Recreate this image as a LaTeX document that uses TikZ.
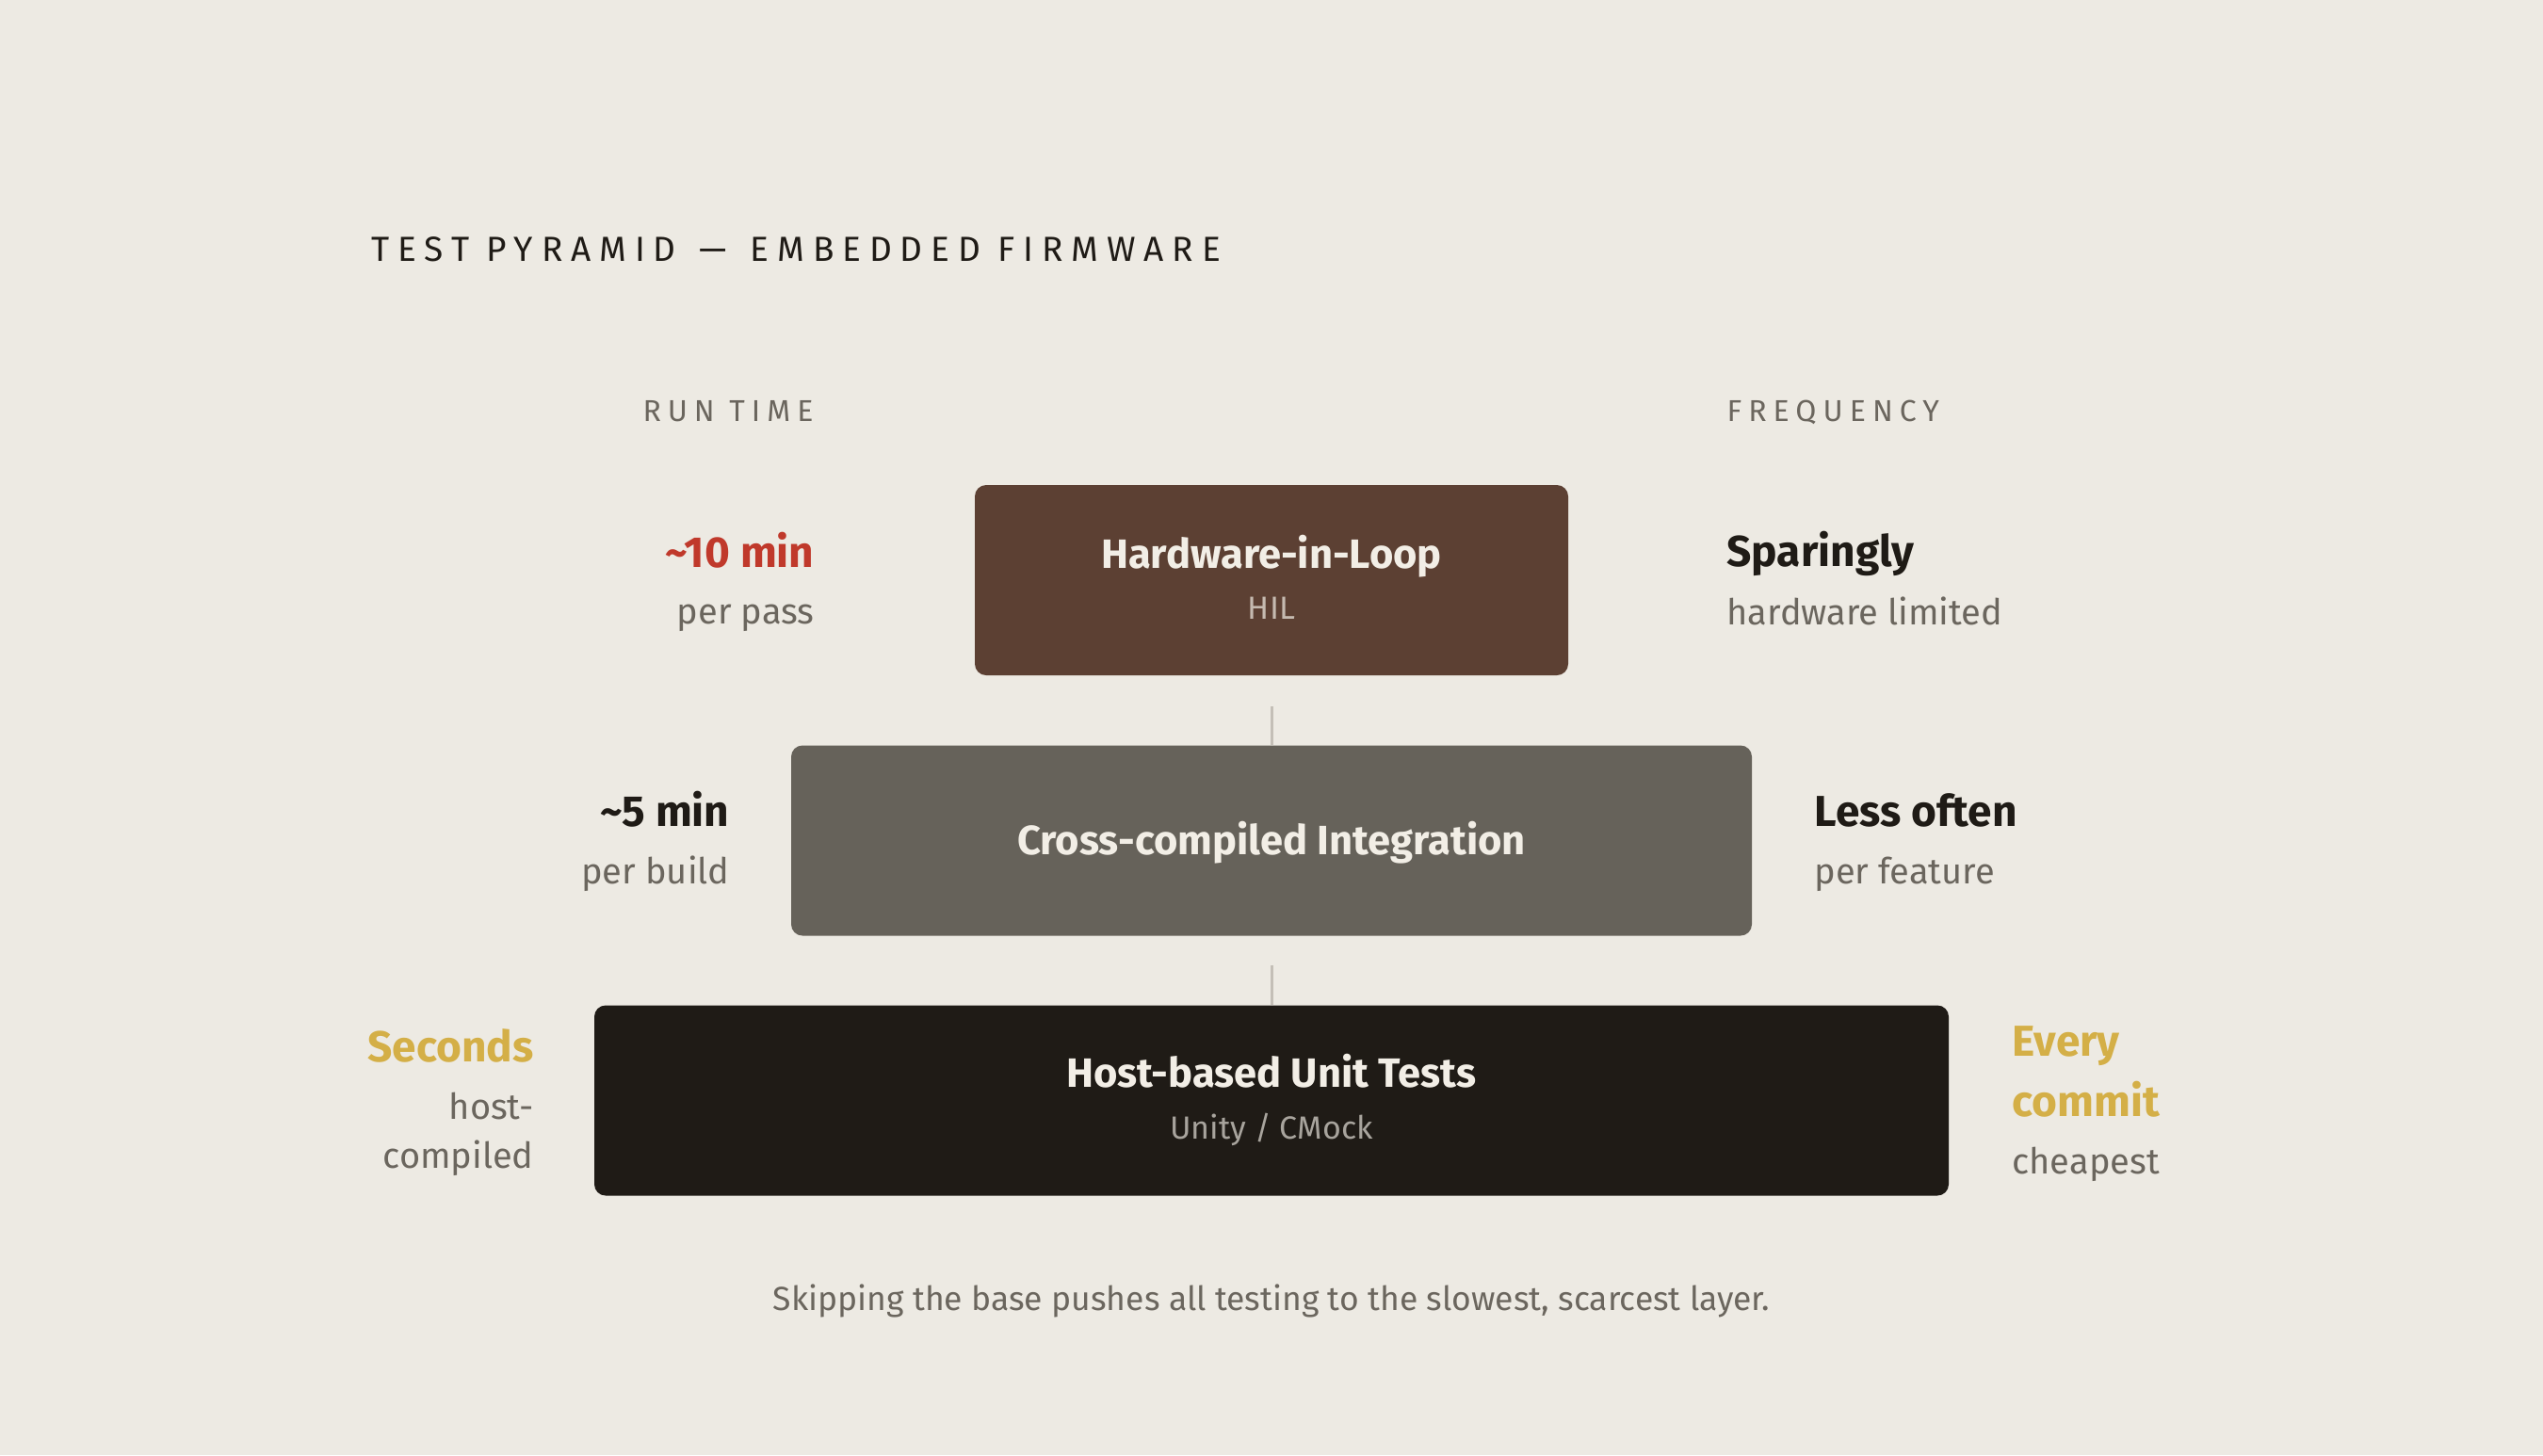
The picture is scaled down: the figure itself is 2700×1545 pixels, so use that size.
\documentclass[tikz,border=0pt]{standalone}
\usepackage{fontspec}
\setmainfont{Fira Sans}
\newfontfamily\capsfont[LetterSpace=22]{Fira Sans}
\newfontfamily\titlefont[LetterSpace=24]{Fira Sans}
\usepackage{tikz}
\usetikzlibrary{positioning}
\definecolor{paper}{HTML}{EDEAE3}
\definecolor{hilbrown}{HTML}{5C4033}
\definecolor{midgrey}{HTML}{66625A}
\definecolor{ink}{HTML}{1F1B16}
\definecolor{cream}{HTML}{F2EEE6}
\definecolor{muted}{HTML}{6B665E}
\definecolor{rust}{HTML}{C0392B}
\definecolor{gold}{HTML}{D4AF47}
\definecolor{rulegrey}{HTML}{C4BFB7}

\begin{document}
\begin{tikzpicture}[x=1pt, y=-1pt,
  tier/.style={rounded corners=12pt, minimum height=202pt, inner sep=0pt},
  tiername/.style={anchor=base, text=cream, font=\fontsize{43.5}{50}\selectfont\bfseries},
  tiersub/.style={anchor=base, font=\fontsize{34}{40}\selectfont},
  big/.style={font=\fontsize{46}{54}\selectfont\bfseries},
  small/.style={text=muted, font=\fontsize{38}{46}\selectfont},
  head/.style={text=muted, font=\capsfont\fontsize{32}{38}\selectfont},
  link/.style={draw=rulegrey, line width=3pt}
]
\fill[paper] (0,0) rectangle (2700,1545);
\useasboundingbox (0,0) rectangle (2700,1545);

% title
\node[anchor=base west, text=ink, font=\titlefont\fontsize{37}{44}\selectfont] (title) at (391,277) {TEST PYRAMID \,—\, EMBEDDED FIRMWARE};

% column heads
\node[head, anchor=base east] (runtime) at (867,447) {RUN TIME};
\node[head, anchor=base west] (freq) at (1830,447) {FREQUENCY};

% tiers
\node[tier, fill=hilbrown, minimum width=630pt] (hil) at (1350,616) {};
\node[tier, fill=midgrey, minimum width=1020pt] (mid) at (1350,892.5) {};
\node[tier, fill=ink, minimum width=1438pt] (base) at (1350,1168.5) {};

\node[tiername] (hilname) at (1350,603) {Hardware-in-Loop};
\node[tiersub, text=cream!70!hilbrown] (hilsub) at (1350,657) {HIL};
\node[tiername] (midname) at (1350,907) {Cross-compiled Integration};
\node[tiername] (basename) at (1350,1154) {Host-based Unit Tests};
\node[tiersub, text=cream!65!ink] (basesub) at (1350,1209) {Unity / CMock};

\draw[link] ([yshift=-33pt]hil.south) -- (mid.north);
\draw[link] ([yshift=-31pt]mid.south) -- (base.north);

% run time
\node[big, text=rust, anchor=base east] (t1) at (868,602) {\textasciitilde10 min};
\node[small, anchor=base east] (t1s) at (868,662) {per pass};
\node[big, text=ink, anchor=base east] (t2) at (778,877) {\textasciitilde5 min};
\node[small, anchor=base east] (t2s) at (778,938) {per build};
\node[big, text=gold, anchor=base east] (t3) at (570,1127) {Seconds};
\node[small, anchor=base east] (t3s) at (570,1188) {host-};
\node[small, anchor=base east] (t3t) at (570,1240) {compiled};

% frequency
\node[big, text=ink, anchor=base west] (f1) at (1830,601) {Sparingly};
\node[small, anchor=base west] (f1s) at (1830,663) {hardware limited};
\node[big, text=ink, anchor=base west] (f2) at (1923,877) {Less often};
\node[small, anchor=base west] (f2s) at (1923,938) {per feature};
\node[big, text=gold, anchor=base west] (f3) at (2133,1121) {Every};
\node[big, text=gold, anchor=base west] (f3b) at (2133,1185) {commit};
\node[small, anchor=base west] (f3s) at (2133,1246) {cheapest};

% footer
\node[small, anchor=base, font=\fontsize{35.5}{42}\selectfont] (note) at (1350,1391) {Skipping the base pushes all testing to the slowest, scarcest layer.};
\end{tikzpicture}
\end{document}
